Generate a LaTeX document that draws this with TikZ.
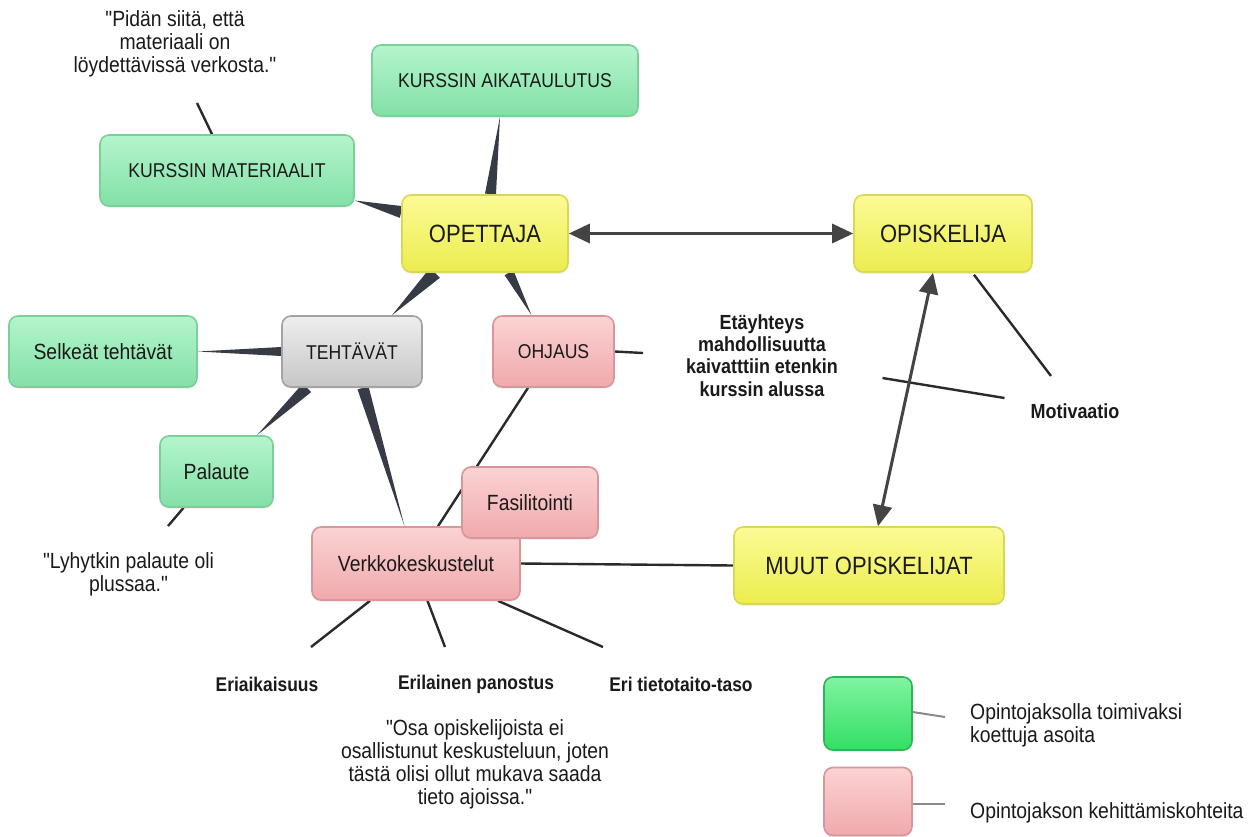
\documentclass[tikz,border=0pt]{standalone}
\usepackage{fontspec}
\setmainfont{Liberation Sans}[FakeStretch=0.88, Ligatures=TeXOff]
\usetikzlibrary{calc,arrows.meta,shadows,backgrounds}

\definecolor{inkcol}{HTML}{1A1A1A}
\definecolor{wedgecol}{HTML}{363B46}
\definecolor{linecol}{HTML}{2A2A2A}
\definecolor{arrowcol}{HTML}{444444}
\definecolor{keycol}{HTML}{8A8A8A}
\definecolor{goodtop}{HTML}{B4F5CC}
\definecolor{goodbot}{HTML}{82E0A6}
\definecolor{goodline}{HTML}{7CCF98}
\definecolor{coretop}{HTML}{FBFB96}
\definecolor{corebot}{HTML}{ECEC4E}
\definecolor{coreline}{HTML}{D8D856}
\definecolor{devtop}{HTML}{FBD3D3}
\definecolor{devbot}{HTML}{F0A9AC}
\definecolor{devline}{HTML}{D9969A}
\definecolor{tasktop}{HTML}{EEEEEE}
\definecolor{taskbot}{HTML}{C6C6C6}
\definecolor{taskline}{HTML}{A3A3A3}
\definecolor{keygtop}{HTML}{80F3A2}
\definecolor{keygbot}{HTML}{33DF63}
\definecolor{keygline}{HTML}{2FB456}

% tapered connector: wide at #1, pointed at #2, half width #3
\newcommand\taper[3]{%
  \fill[wedgecol] ($(#1)!#3!90:(#2)$) -- ($(#1)!#3!-90:(#2)$) -- (#2) -- cycle;}

\tikzset{
  box/.style={rounded corners=9pt, draw, line width=1.6pt, inner sep=0pt,
    align=center, text=inkcol,
    drop shadow={shadow xshift=0pt, shadow yshift=-1.6pt, opacity=0.16}},
  goodbox/.style={box, top color=goodtop, bottom color=goodbot, draw=goodline},
  corebox/.style={box, top color=coretop, bottom color=corebot, draw=coreline,
    font=\fontsize{25}{28}\selectfont},
  devbox/.style={box, top color=devtop, bottom color=devbot, draw=devline},
  taskbox/.style={box, top color=tasktop, bottom color=taskbot, draw=taskline},
  keygood/.style={box, top color=keygtop, bottom color=keygbot, draw=keygline},
  capsfont/.style={font=\fontsize{20}{23}\selectfont},
  lowfont/.style={font=\fontsize{22}{25}\selectfont},
  quote/.style={align=center, text=inkcol, inner sep=0pt, font=\fontsize{22}{23}\selectfont},
  keyword/.style={align=center, text=inkcol, inner sep=0pt, font=\bfseries\fontsize{19.8}{22.3}\selectfont},
  thinline/.style={draw=linecol, line width=2.4pt},
  keyline/.style={draw=keycol, line width=2pt},
  twoway/.style={draw=arrowcol, line width=3pt,
    {Triangle[length=21pt,width=19pt]}-{Triangle[length=21pt,width=19pt]}},
}

\begin{document}
\begin{tikzpicture}[x=1pt, y=-1pt]
  \path[use as bounding box] (0,0) rectangle (1258,836);

  % ---- concept boxes
  \node[goodbox, capsfont, minimum width=266pt, minimum height=71pt] (aika) at (505,80.5) {KURSSIN AIKATAULUTUS};
  \node[goodbox, capsfont, minimum width=254pt, minimum height=71pt] (mat) at (227,170.5) {KURSSIN MATERIAALIT};
  \node[corebox, minimum width=166pt, minimum height=77pt] (ope) at (485,233.5) {OPETTAJA};
  \node[corebox, minimum width=178pt, minimum height=77pt] (opis) at (943,233.5) {OPISKELIJA};
  \node[taskbox, capsfont, minimum width=140pt, minimum height=71pt] (teh) at (352,351.5) {TEHTÄVÄT};
  \node[devbox, capsfont, minimum width=121pt, minimum height=71pt] (ohj) at (553.5,351.5) {OHJAUS};
  \node[goodbox, lowfont, minimum width=188pt, minimum height=71pt] (selk) at (103,351.5) {Selkeät tehtävät};
  \node[goodbox, lowfont, minimum width=113pt, minimum height=71pt] (pal) at (216.5,471.5) {Palaute};
  \node[devbox, lowfont, minimum width=208pt, minimum height=73pt] (verk) at (416,563.5) {Verkkokeskustelut};
  \node[devbox, lowfont, minimum width=136pt, minimum height=71pt] (fas) at (530,502.5) {Fasilitointi};
  \node[corebox, minimum width=270pt, minimum height=77pt] (muut) at (869,565.5) {MUUT OPISKELIJAT};

  % ---- free texts
  \node[quote] (q1) at (175,44) {"Pidän siitä, että\\materiaali on\\löydettävissä verkosta."};
  \node[quote] (q2) at (128.5,574) {"Lyhytkin palaute oli\\plussaa."};
  \node[quote] (q3) at (475,764) {"Osa opiskelijoista ei\\osallistunut keskusteluun, joten\\tästä olisi ollut mukava saada\\tieto ajoissa."};
  \node[keyword, font=\bfseries\fontsize{20.4}{22.3}\selectfont] (eta) at (762,355.5) {Etäyhteys\\mahdollisuutta\\kaivatttiin etenkin\\kurssin alussa};
  \node[keyword, font=\bfseries\fontsize{20.4}{22}\selectfont] (moti) at (1075,411) {Motivaatio};
  \node[keyword] (erai) at (267,684) {Eriaikaisuus};
  \node[keyword] (eril) at (476,684) {Erilainen panostus};
  \node[keyword] (erit) at (681,684) {Eri tietotaito-taso};

  % ---- legend
  \node[keygood, minimum width=88pt, minimum height=73pt] (keyg) at (868,713.5) {};
  \node[devbox, minimum width=88pt, minimum height=68pt] (keyd) at (868,801.5) {};
  \node[quote, align=left, anchor=west] (keygt) at (970,725.5) {Opintojaksolla toimivaksi\\koettuja asoita};
  \node[quote, align=left, anchor=west] (keydt) at (970,813) {Opintojakson kehittämiskohteita};

  % ---- free ends of the plain connectors
  \coordinate (matq) at (197,103);
  \coordinate (palq) at (168,526);
  \coordinate (ohjq) at (643,353);
  \coordinate (crossa) at (882.5,378);
  \coordinate (crossb) at (1004.5,398);
  \coordinate (motq) at (1051,376);
  \coordinate (eraiq) at (311,647);
  \coordinate (erilq) at (445,647);
  \coordinate (eritq) at (603,647);
  \coordinate (keygq) at (945,717);
  \coordinate (keydq) at (945,804);

  % ---- taper end points
  \coordinate (t1a) at ($(ope.north)+(5.5,0)$);   \coordinate (t1b) at ($(aika.south)+(-5,0)$);
  \coordinate (t2a) at ($(ope.west)+(0,-21.5)$);  \coordinate (t2b) at ($(mat.east)+(0,30)$);
  \coordinate (t3a) at ($(ope.south)+(-50,0)$);   \coordinate (t3b) at ($(teh.north)+(40,0)$);
  \coordinate (t4a) at ($(ope.south)+(24,0)$);    \coordinate (t4b) at ($(ohj.north)+(-22,0)$);
  \coordinate (t5a) at (teh.west);                \coordinate (t5b) at (selk.east);
  \coordinate (t6a) at ($(teh.south)+(-45,0)$);   \coordinate (t6b) at ($(pal.north)+(40.5,0)$);
  \coordinate (t7a) at ($(teh.south)+(11,0)$);    \coordinate (t7b) at ($(verk.north)+(-11.5,0)$);

  \begin{pgfonlayer}{background}
    \fill[white] (0,0) rectangle (1258,836);
    % tapered links
    \taper{t1a}{t1b}{5.5pt}
    \taper{t2a}{t2b}{6pt}
    \taper{t3a}{t3b}{7pt}
    \taper{t4a}{t4b}{5pt}
    \taper{t5a}{t5b}{4.5pt}
    \taper{t6a}{t6b}{6pt}
    \taper{t7a}{t7b}{5.7pt}
    % plain links
    \draw[thinline] (mat.north -| matq) ++(15,0) -- (matq);
    \draw[thinline] ($(ohj.south)+(-25.5,0)$) -- ($(verk.north)+(22,0)$);
    \draw[thinline] (ohj.east) -- (ohjq);
    \draw[thinline] ($(pal.south)+(-33,0)$) -- (palq);
    \draw[thinline] (verk.east) -- (muut.west);
    \draw[thinline] (crossa) -- (crossb);
    \draw[thinline] ($(opis.south)+(31,2)$) -- (motq);
    \draw[thinline] ($(verk.south)+(-46,0)$) -- (eraiq);
    \draw[thinline] ($(verk.south)+(11.5,0)$) -- (erilq);
    \draw[thinline] ($(verk.south)+(82,0)$) -- (eritq);
    % two-way arrows
    \draw[twoway] (ope.east) -- (opis.west);
    \draw[twoway] ($(opis.south)+(-10,0)$) -- ($(muut.north)+(9,0)$);
    % legend leaders
    \draw[keyline] ($(keyg.east)+(0,-1.5)$) -- (keygq);
    \draw[keyline] ($(keyd.east)+(0,2.5)$) -- (keydq);
  \end{pgfonlayer}
\end{tikzpicture}
\end{document}
